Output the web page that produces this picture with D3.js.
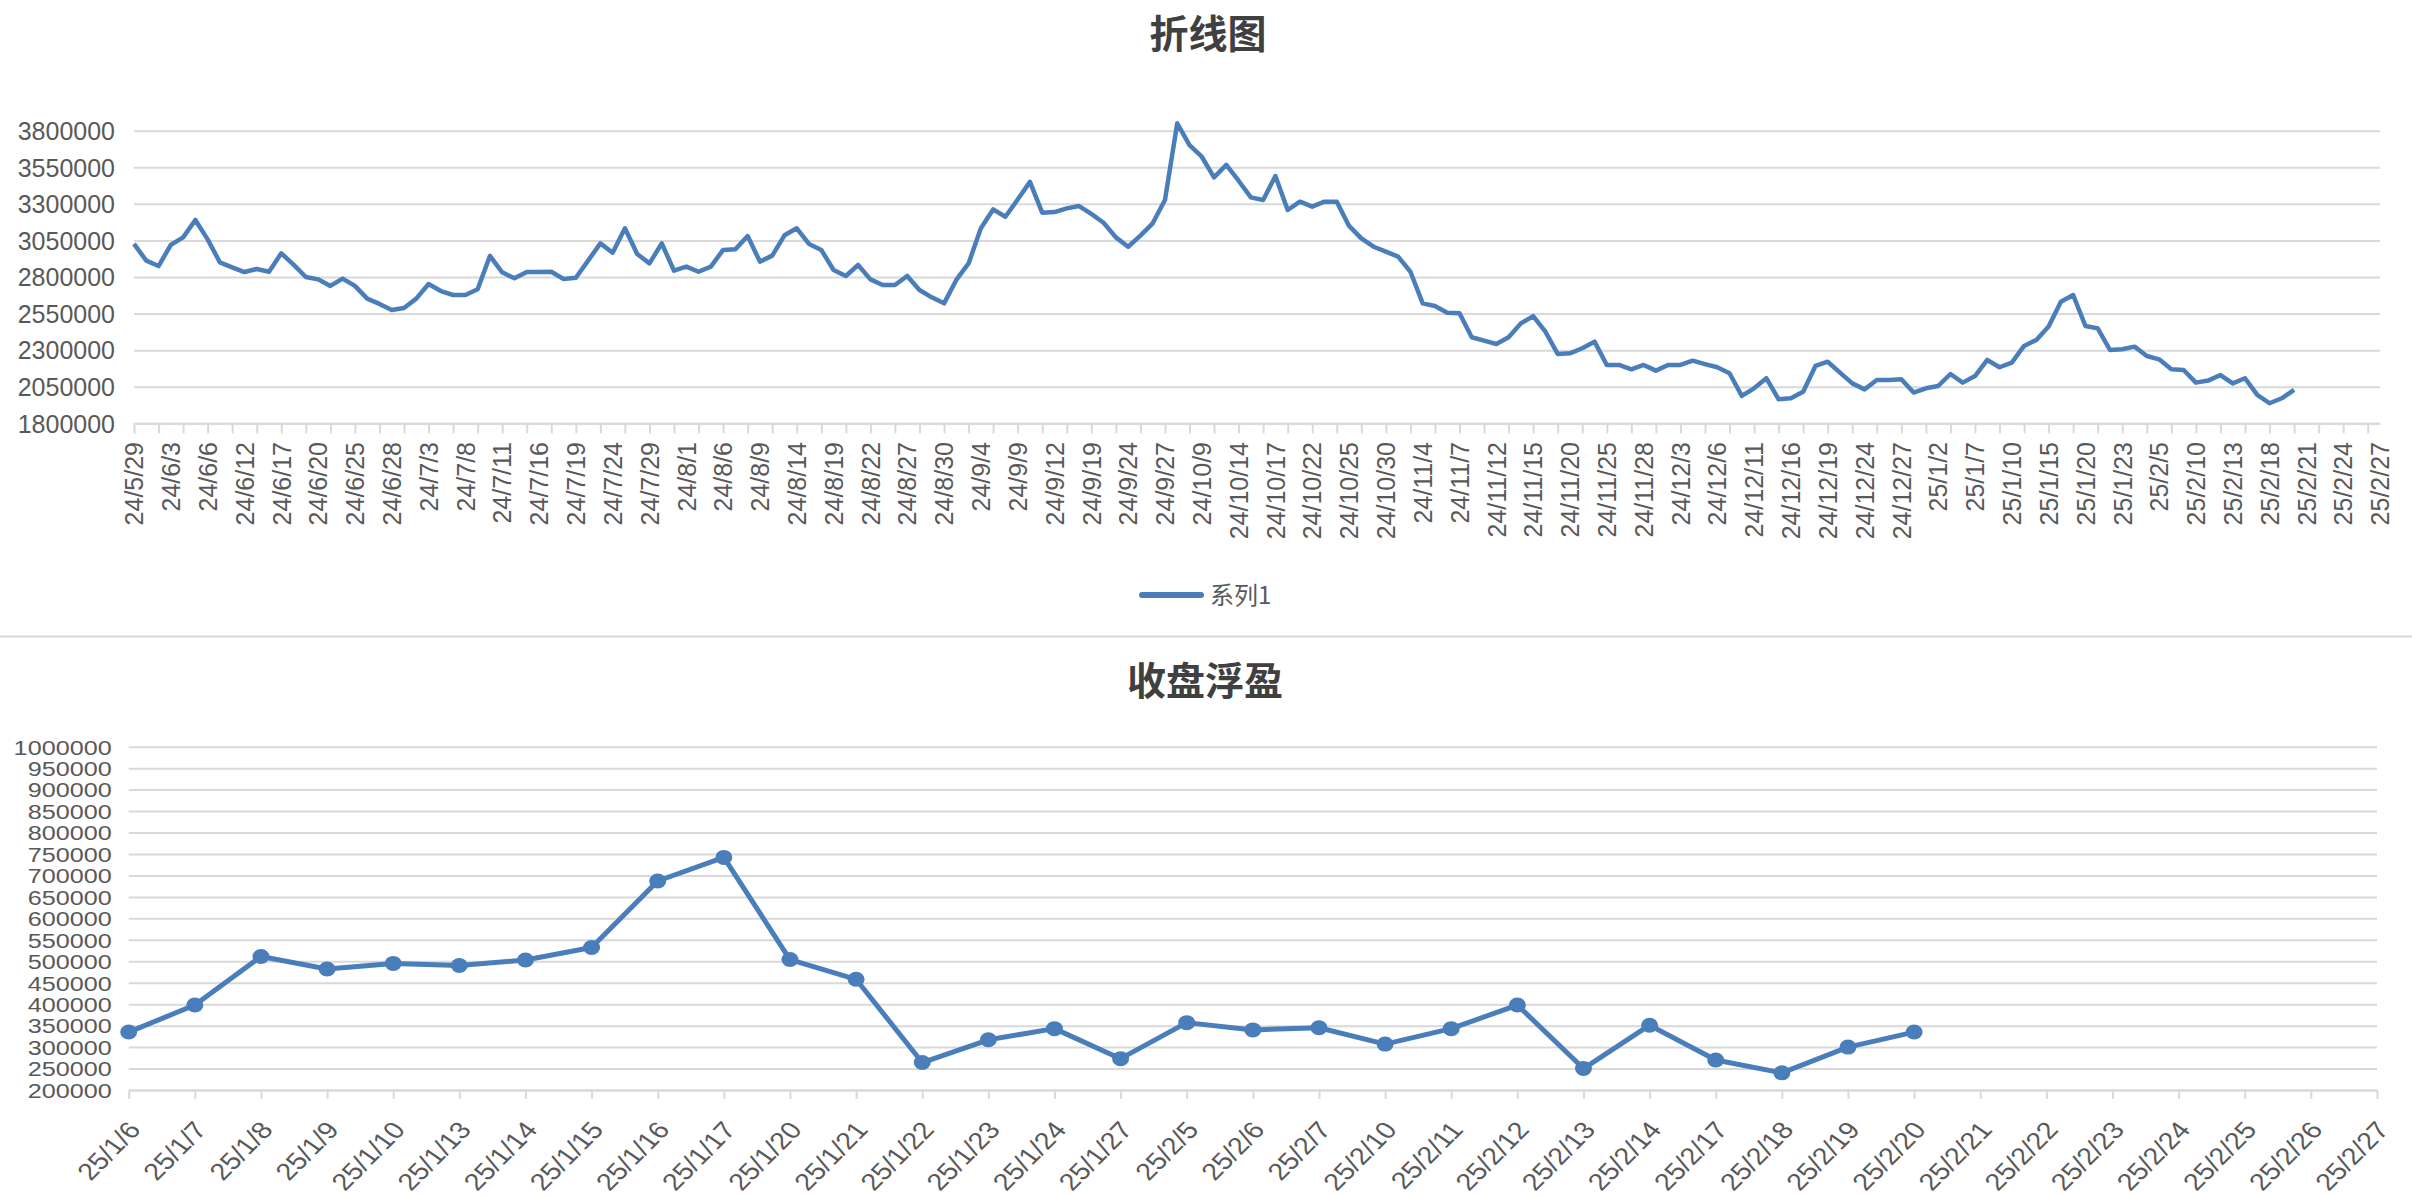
<!DOCTYPE html>
<html>
<head>
<meta charset="utf-8">
<script src="https://cdn.jsdelivr.net/npm/d3@7"></script>
<style>
html, body { margin: 0; padding: 0; background: #fff; }
svg { display: block; }
</style>
</head>
<body>
<svg id="chart" width="2412" height="1196"></svg>
<script>
// 折线图: trading days, last rows are empty calendar days
var dates = ["24/5/29","24/5/30","24/5/31",
  "24/6/3","24/6/4","24/6/5","24/6/6","24/6/7","24/6/11","24/6/12","24/6/13","24/6/14","24/6/17","24/6/18","24/6/19","24/6/20","24/6/21","24/6/24","24/6/25","24/6/26","24/6/27","24/6/28",
  "24/7/1","24/7/2","24/7/3","24/7/4","24/7/5","24/7/8","24/7/9","24/7/10","24/7/11","24/7/12","24/7/15","24/7/16","24/7/17","24/7/18","24/7/19","24/7/22","24/7/23","24/7/24","24/7/25","24/7/26","24/7/29","24/7/30","24/7/31",
  "24/8/1","24/8/2","24/8/5","24/8/6","24/8/7","24/8/8","24/8/9","24/8/12","24/8/13","24/8/14","24/8/15","24/8/16","24/8/19","24/8/20","24/8/21","24/8/22","24/8/23","24/8/26","24/8/27","24/8/28","24/8/29","24/8/30",
  "24/9/2","24/9/3","24/9/4","24/9/5","24/9/6","24/9/9","24/9/10","24/9/11","24/9/12","24/9/13","24/9/18","24/9/19","24/9/20","24/9/23","24/9/24","24/9/25","24/9/26","24/9/27","24/9/30",
  "24/10/8","24/10/9","24/10/10","24/10/11","24/10/14","24/10/15","24/10/16","24/10/17","24/10/18","24/10/21","24/10/22","24/10/23","24/10/24","24/10/25","24/10/28","24/10/29","24/10/30","24/10/31",
  "24/11/1","24/11/4","24/11/5","24/11/6","24/11/7","24/11/8","24/11/11","24/11/12","24/11/13","24/11/14","24/11/15","24/11/18","24/11/19","24/11/20","24/11/21","24/11/22","24/11/25","24/11/26","24/11/27","24/11/28","24/11/29",
  "24/12/2","24/12/3","24/12/4","24/12/5","24/12/6","24/12/9","24/12/10","24/12/11","24/12/12","24/12/13","24/12/16","24/12/17","24/12/18","24/12/19","24/12/20","24/12/23","24/12/24","24/12/25","24/12/26","24/12/27","24/12/30","24/12/31",
  "25/1/2","25/1/3","25/1/6","25/1/7","25/1/8","25/1/9","25/1/10","25/1/13","25/1/14","25/1/15","25/1/16","25/1/17","25/1/20","25/1/21","25/1/22","25/1/23","25/1/24","25/1/27",
  "25/2/5","25/2/6","25/2/7","25/2/10","25/2/11","25/2/12","25/2/13","25/2/14","25/2/17","25/2/18","25/2/19","25/2/20","25/2/21","25/2/22","25/2/23","25/2/24","25/2/25","25/2/26","25/2/27"];

// 系列1
var series1 = [3026000,2912000,2875000,3019000,3071000,3190000,3057000,2900000,2866000,2834000,
  2855000,2836000,2962000,2885000,2800000,2784000,2739000,2789000,2739000,2652000,
  2616000,2575000,2588000,2652000,2752000,2704000,2677000,2677000,2716000,2944000,
  2832000,2791000,2834000,2834000,2836000,2786000,2795000,2912000,3030000,2966000,
  3133000,2957000,2893000,3030000,2843000,2871000,2836000,2871000,2985000,2989000,
  3080000,2905000,2946000,3085000,3133000,3026000,2985000,2848000,2807000,2882000,
  2784000,2745000,2745000,2807000,2711000,2661000,2620000,2780000,2893000,3133000,
  3262000,3212000,3330000,3450000,3240000,3244000,3269000,3285000,3231000,3171000,
  3071000,3007000,3083000,3167000,3326000,3850000,3702000,3622000,3481000,3566000,
  3458000,3344000,3326000,3490000,3258000,3315000,3281000,3315000,3315000,3149000,
  3064000,3007000,2973000,2939000,2836000,2620000,2602000,2556000,2552000,2388000,
  2365000,2342000,2388000,2483000,2533000,2426000,2274000,2278000,2313000,2358000,
  2199000,2199000,2169000,2199000,2160000,2199000,2199000,2228000,2205000,2183000,
  2142000,1987000,2039000,2108000,1964000,1971000,2016000,2192000,2221000,2146000,
  2073000,2032000,2096000,2096000,2101000,2010000,2039000,2055000,2137000,2078000,
  2123000,2233000,2183000,2215000,2329000,2370000,2461000,2631000,2677000,2465000,
  2449000,2301000,2306000,2324000,2260000,2237000,2169000,2164000,2078000,2092000,
  2130000,2073000,2108000,1994000,1937000,1971000,2028000];

var series1Ticks = [1800000,2050000,2300000,2550000,2800000,3050000,3300000,3550000,3800000];

// 收盘浮盈
var pnlDates = ["25/1/6","25/1/7","25/1/8","25/1/9","25/1/10","25/1/13","25/1/14","25/1/15","25/1/16","25/1/17",
  "25/1/20","25/1/21","25/1/22","25/1/23","25/1/24","25/1/27","25/2/5","25/2/6","25/2/7","25/2/10",
  "25/2/11","25/2/12","25/2/13","25/2/14","25/2/17","25/2/18","25/2/19","25/2/20","25/2/21","25/2/22",
  "25/2/23","25/2/24","25/2/25","25/2/26","25/2/27"];
var pnlValues = [335000,398000,511000,482000,495000,490000,503000,532000,687000,742000,
  504000,458000,264000,317000,343000,273000,357000,340000,345000,307000,
  343000,398000,250000,351000,270000,240000,300000,335000];
var pnlTicks = [200000,250000,300000,350000,400000,450000,500000,550000,600000,650000,
  700000,750000,800000,850000,900000,950000,1000000];

var svg = d3.select('#chart');
var numFont = '"Liberation Sans", Arial, Helvetica, sans-serif';
var cjkFont = '"Noto Sans CJK SC", "Noto Sans", sans-serif';
var labelGray = '#595959', gridGray = '#d9d9d9', blue = '#4a7ebb';

drawTop();
drawBottom();

function drawTop() {
  var left = 134, right = 2380, top = 130.7, bottom = 423.3;
  var x = d3.scalePoint().domain(dates).range([left, right]);
  var y = d3.scaleLinear().domain([1800000, 3800000]).range([bottom, top]);
  var g = svg.append('g');

  g.append('text').text('折线图')
    .attr('x', 1208).attr('y', 34).attr('dy', '0.36em')
    .attr('text-anchor', 'middle')
    .attr('font-family', cjkFont).attr('font-size', 39).attr('font-weight', 'bold')
    .attr('fill', '#404040');

  var ya = g.append('g')
    .attr('transform', 'translate(' + left + ',0)')
    .call(d3.axisLeft(y).tickValues(series1Ticks).tickSize(-(right - left)).tickPadding(19).tickFormat(d3.format('d')));
  ya.select('.domain').remove();
  ya.selectAll('.tick line').attr('stroke', gridGray).attr('stroke-width', 2);
  ya.selectAll('.tick text').attr('fill', labelGray)
    .attr('font-family', numFont).attr('font-size', 25).attr('dy', '0.35em');

  // tick marks every 2 days
  var xt = g.append('g')
    .attr('transform', 'translate(0,' + bottom + ')')
    .call(d3.axisBottom(x).tickValues(dates.filter(function(d, i) { return i % 2 == 0; }))
      .tickSize(10).tickSizeOuter(0).tickFormat(''));
  xt.select('.domain').attr('stroke', gridGray).attr('stroke-width', 2);
  xt.selectAll('.tick line').attr('stroke', gridGray).attr('stroke-width', 2);

  // labels every 3 days
  var xl = g.append('g')
    .attr('transform', 'translate(0,' + bottom + ')')
    .call(d3.axisBottom(x).tickValues(dates.filter(function(d, i) { return i % 3 == 0; }))
      .tickSize(0).tickSizeOuter(0));
  xl.select('.domain').remove();
  xl.selectAll('.tick text')
    .attr('y', null).attr('x', null).attr('dy', '0.35em')
    .attr('text-anchor', 'end')
    .attr('transform', 'translate(0,' + (442 - bottom) + ') rotate(-90)')
    .attr('fill', labelGray).attr('font-family', numFont).attr('font-size', 25);

  var line = d3.line()
    .x(function(d, i) { return x(dates[i]); })
    .y(function(d) { return y(d); });
  g.append('path').datum(series1)
    .attr('d', line)
    .attr('fill', 'none').attr('stroke', blue).attr('stroke-width', 4.5)
    .attr('stroke-linejoin', 'round');

  // legend
  g.append('line').attr('x1', 1142).attr('x2', 1201).attr('y1', 595).attr('y2', 595)
    .attr('stroke', blue).attr('stroke-width', 6).attr('stroke-linecap', 'round');
  g.append('text').text('系列1')
    .attr('x', 1210).attr('y', 596).attr('dy', '0.35em')
    .attr('font-family', cjkFont).attr('font-size', 24).attr('fill', labelGray);

  // chart border between the two charts
  svg.append('line').attr('x1', 0).attr('x2', 2412).attr('y1', 636.5).attr('y2', 636.5)
    .attr('stroke', gridGray).attr('stroke-width', 2);
}

function drawBottom() {
  var left = 128.7, right = 2377, top = 746.7, bottom = 1090;
  var stretch = 1.2;
  var x = d3.scalePoint().domain(pnlDates).range([left, right]);
  var y = d3.scaleLinear().domain([200000, 1000000]).range([bottom, top]);
  var g = svg.append('g');

  g.append('text').text('收盘浮盈')
    .attr('x', 1205).attr('y', 681).attr('dy', '0.36em')
    .attr('text-anchor', 'middle')
    .attr('font-family', cjkFont).attr('font-size', 39).attr('font-weight', 'bold')
    .attr('fill', '#404040');

  var ya = g.append('g')
    .attr('transform', 'translate(' + left + ',0)')
    .call(d3.axisLeft(y).tickValues(pnlTicks).tickSize(-(right - left)).tickPadding(17).tickFormat(d3.format('d')));
  ya.select('.domain').remove();
  ya.selectAll('.tick line').attr('stroke', gridGray).attr('stroke-width', 2);
  ya.selectAll('.tick text')
    .attr('x', -17 / stretch).attr('dy', '0.35em')
    .attr('transform', 'scale(' + stretch + ',1)')
    .attr('fill', labelGray).attr('font-family', numFont).attr('font-size', 21);

  var xa = g.append('g')
    .attr('transform', 'translate(0,' + bottom + ')')
    .call(d3.axisBottom(x).tickSize(9).tickSizeOuter(0));
  xa.select('.domain').attr('stroke', gridGray).attr('stroke-width', 2);
  xa.selectAll('.tick line').attr('stroke', gridGray).attr('stroke-width', 2);
  var ang = Math.atan(stretch) * 180 / Math.PI;
  xa.selectAll('.tick text')
    .attr('y', null).attr('x', null).attr('dy', '0.35em')
    .attr('text-anchor', 'end')
    .attr('transform', 'translate(5,35) scale(' + stretch + ',1) rotate(' + (-ang) + ')')
    .attr('fill', labelGray).attr('font-family', numFont).attr('font-size', 24);

  var line = d3.line()
    .x(function(d, i) { return x(pnlDates[i]); })
    .y(function(d) { return y(d); });
  g.append('path').datum(pnlValues)
    .attr('d', line)
    .attr('fill', 'none').attr('stroke', blue).attr('stroke-width', 5)
    .attr('stroke-linejoin', 'round');

  g.selectAll('.dot').data(pnlValues).enter().append('ellipse')
    .attr('class', 'dot')
    .attr('cx', function(d, i) { return x(pnlDates[i]); })
    .attr('cy', function(d) { return y(d); })
    .attr('rx', 8.5).attr('ry', 7.5)
    .attr('fill', blue);
}
</script>
</body>
</html>
